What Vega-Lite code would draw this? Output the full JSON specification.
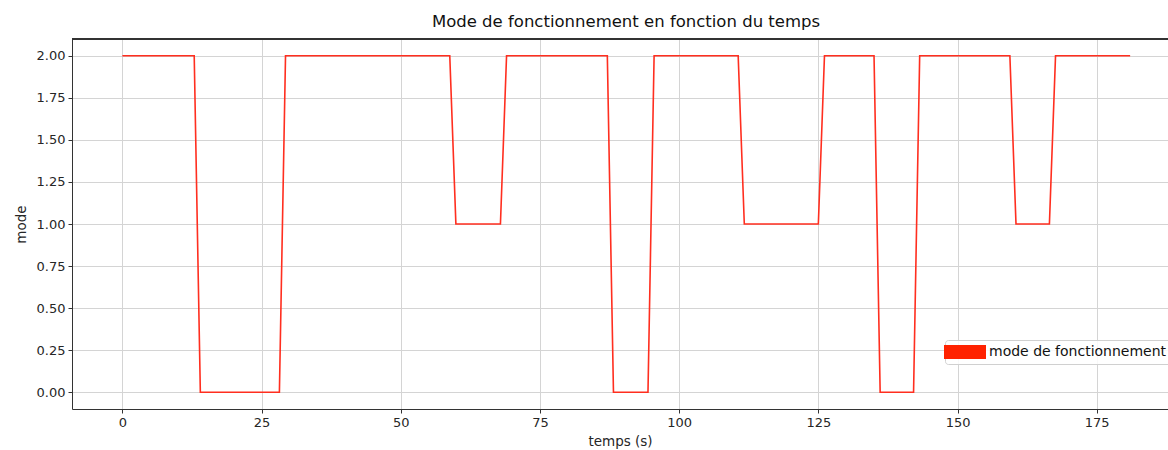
{
  "$schema": "https://vega.github.io/schema/vega-lite/v6.json",
  "autosize": "none",
  "width": 1096,
  "height": 370,
  "padding": {"left": 72, "top": 39, "right": 0, "bottom": 41},
  "background": "white",
  "config": {
    "font": "DejaVu Sans",
    "view": {"stroke": null},
    "axis": {
      "labelFont": "DejaVu Sans",
      "labelFontSize": 13,
      "labelColor": "#262626",
      "titleFont": "DejaVu Sans",
      "titleFontSize": 13.5,
      "titleFontWeight": "normal",
      "titleColor": "#262626",
      "domainColor": "#333333",
      "domainWidth": 1,
      "tickColor": "#333333",
      "tickSize": 4,
      "labelPadding": 3,
      "gridColor": "#d4d4d4",
      "gridWidth": 1
    }
  },
  "title": {
    "text": "Mode de fonctionnement en fonction du temps",
    "font": "DejaVu Sans",
    "fontSize": 16.5,
    "fontWeight": "normal",
    "color": "#111111",
    "anchor": "middle",
    "offset": 8,
    "dx": 6
  },
  "data": {
    "values": [
      {"t": 0, "mode": 2},
      {"t": 12.9, "mode": 2},
      {"t": 14.0, "mode": 0},
      {"t": 28.2, "mode": 0},
      {"t": 29.3, "mode": 2},
      {"t": 58.8, "mode": 2},
      {"t": 59.9, "mode": 1},
      {"t": 67.9, "mode": 1},
      {"t": 69.0, "mode": 2},
      {"t": 87.1, "mode": 2},
      {"t": 88.2, "mode": 0},
      {"t": 94.4, "mode": 0},
      {"t": 95.5, "mode": 2},
      {"t": 110.6, "mode": 2},
      {"t": 111.7, "mode": 1},
      {"t": 125.0, "mode": 1},
      {"t": 126.1, "mode": 2},
      {"t": 135.0, "mode": 2},
      {"t": 136.1, "mode": 0},
      {"t": 142.1, "mode": 0},
      {"t": 143.2, "mode": 2},
      {"t": 159.4, "mode": 2},
      {"t": 160.5, "mode": 1},
      {"t": 166.5, "mode": 1},
      {"t": 167.6, "mode": 2},
      {"t": 181, "mode": 2}
    ]
  },
  "layer": [
    {
      "mark": {"type": "rule", "color": "#333333", "strokeWidth": 1},
      "encoding": {"y": {"datum": 2.1, "type": "quantitative"}}
    },
    {
      "mark": {"type": "line", "strokeWidth": 1.6, "clip": true},
      "encoding": {
        "x": {
          "field": "t",
          "type": "quantitative",
          "scale": {"domain": [-9.05, 187.8], "nice": false, "zero": false},
          "axis": {
            "title": "temps (s)",
            "values": [0, 25, 50, 75, 100, 125, 150, 175],
            "grid": true,
            "titlePadding": 5
          }
        },
        "y": {
          "field": "mode",
          "type": "quantitative",
          "scale": {"domain": [-0.1, 2.1], "nice": false, "zero": false},
          "axis": {
            "title": "mode",
            "values": [0, 0.25, 0.5, 0.75, 1, 1.25, 1.5, 1.75, 2],
            "format": ".2f",
            "grid": true,
            "titlePadding": 8
          }
        },
        "color": {
          "datum": "mode de fonctionnement",
          "type": "nominal",
          "scale": {"range": ["#ff2e1f"]},
          "legend": {
            "title": null,
            "orient": "none",
            "legendX": 873,
            "legendY": 301,
            "fillColor": "rgba(255,255,255,0.85)",
            "strokeColor": "#d0d0d0",
            "cornerRadius": 3,
            "padding": 5,
            "symbolType": "M-3,-1H3V1H-3Z",
            "symbolSize": 196,
            "symbolStrokeWidth": 0,
            "symbolFillColor": "#ff2200",
            "symbolOpacity": 1,
            "labelFont": "DejaVu Sans",
            "labelFontSize": 14,
            "labelColor": "#111111",
            "labelOffset": 25,
            "labelLimit": 400,
            "encode": {
              "symbols": {"update": {"fill": {"value": "#ff2200"}, "strokeWidth": {"value": 0}, "xc": {"value": 15}}}
            }
          }
        }
      }
    }
  ]
}
